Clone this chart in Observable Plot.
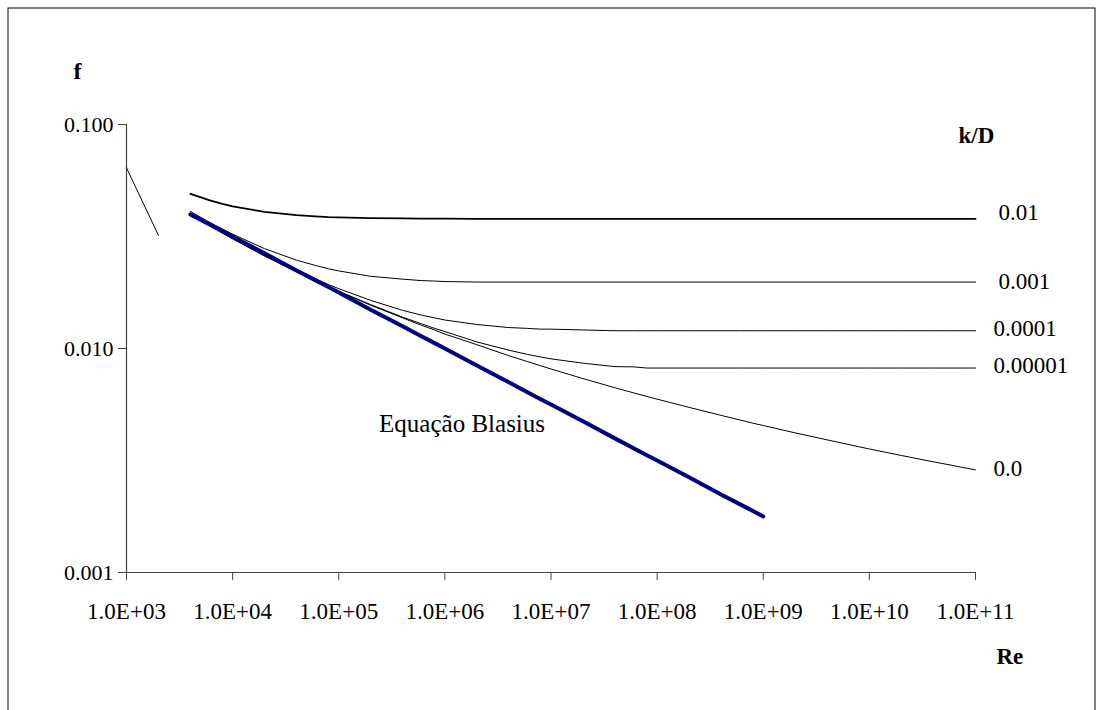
<!DOCTYPE html>
<html>
<head>
<meta charset="utf-8">
<script src="https://cdn.jsdelivr.net/npm/d3@7"></script>
<script src="https://cdn.jsdelivr.net/npm/@observablehq/plot@0.6"></script>
<style>
  html, body { margin: 0; padding: 0; background: #fff; }
  #chart svg { display: block; }
</style>
</head>
<body>
<div id="chart"></div>
<script>
// Reynolds numbers (shared x values of the turbulent curves)
const re = [4e3, 6e3, 8e3, 1e4, 2e4, 4e4, 6e4, 8e4, 1e5, 2e5, 4e5, 6e5, 8e5, 1e6, 2e6, 4e6, 6e6, 8e6,
  1e7, 2e7, 4e7, 6e7, 8e7, 1e8, 2e8, 4e8, 6e8, 8e8, 1e9, 2e9, 4e9, 6e9, 8e9, 1e10, 2e10, 4e10, 6e10, 8e10, 1e11];

// friction factor for each relative roughness k/D
const fK0_01 = [0.0490, 0.0460, 0.0442, 0.0431, 0.0407, 0.0394, 0.0389, 0.0386, 0.0385, 0.0382, 0.0381, 0.0380, 0.0380, 0.0380, 0.0379,
  0.0379, 0.0379, 0.0379, 0.0379, 0.0379, 0.0379, 0.0379, 0.0379, 0.0379, 0.0379, 0.0379, 0.0379, 0.0379, 0.0379, 0.0379,
  0.0379, 0.0379, 0.0379, 0.0379, 0.0379, 0.0379, 0.0379, 0.0379, 0.0379];
const fK0_001 = [0.0409, 0.0367, 0.0342, 0.0324, 0.0279, 0.0248, 0.0235, 0.0227, 0.0222, 0.0210, 0.0204, 0.0201, 0.0200, 0.0199, 0.0198,
  0.0198, 0.0198, 0.0198, 0.0198, 0.0198, 0.0198, 0.0198, 0.0198, 0.0198, 0.0198, 0.0198, 0.0198, 0.0198, 0.0198, 0.0198,
  0.0198, 0.0198, 0.0198, 0.0198, 0.0198, 0.0198, 0.0198, 0.0198, 0.0198];
const fK0_0001 = [0.0400, 0.0357, 0.0329, 0.0311, 0.0261, 0.0223, 0.0205, 0.0193, 0.0185, 0.0164, 0.0148, 0.0141, 0.0137, 0.0134, 0.0128,
  0.0124, 0.0123, 0.0122, 0.0122, 0.0121, 0.0120, 0.0120, 0.0120, 0.0120, 0.0120, 0.0120, 0.0120, 0.0120, 0.0120, 0.0120,
  0.0120, 0.0120, 0.0120, 0.0120, 0.0120, 0.0120, 0.0120, 0.0120, 0.0120];
const fK0_00001 = [0.0399, 0.0355, 0.0328, 0.0309, 0.0259, 0.0220, 0.0201, 0.0189, 0.0180, 0.0157, 0.0138, 0.0129, 0.0123, 0.0119, 0.0107,
  0.00983, 0.00941, 0.00916, 0.00899, 0.00860, 0.00830, 0.00828, 0.00818, 0.00818, 0.00818, 0.00818, 0.00818, 0.00818, 0.00818, 0.00818,
  0.00818, 0.00818, 0.00818, 0.00818, 0.00818, 0.00818, 0.00818, 0.00818, 0.00818];
const fSmooth = [0.0399, 0.0355, 0.0328, 0.0309, 0.0259, 0.0220, 0.0201, 0.0189, 0.0180, 0.0156, 0.0137, 0.0127, 0.0121, 0.0116, 0.0104,
  0.00929, 0.00874, 0.00837, 0.00810, 0.00734, 0.00668, 0.00634, 0.00611, 0.00594, 0.00546, 0.00503, 0.00480, 0.00464, 0.00453, 0.00420,
  0.00391, 0.00375, 0.00364, 0.00356, 0.00333, 0.00312, 0.00301, 0.00293, 0.00287];

// Blasius equation (Re 4e3 .. 1e9)
const reBlasius = [4e3, 6e3, 8e3, 1e4, 2e4, 4e4, 6e4, 8e4, 1e5, 2e5, 4e5, 6e5, 8e5, 1e6, 2e6, 4e6, 6e6, 8e6,
  1e7, 2e7, 4e7, 6e7, 8e7, 1e8, 2e8, 4e8, 6e8, 8e8, 1e9];
const fBlasius = [0.0397, 0.0359, 0.0334, 0.0316, 0.0266, 0.0223, 0.0202, 0.0188, 0.0178, 0.0149, 0.01257, 0.01135, 0.01057, 0.00999,
  0.00840, 0.00707, 0.00638, 0.00594, 0.00562, 0.00473, 0.00397, 0.00359, 0.00334, 0.00316, 0.00266, 0.00223, 0.00202, 0.00188, 0.00178];

// laminar segment
const reLaminar = [1000, 2000];
const fLaminar = [0.064, 0.032];

// labels
const seriesLabels = ["0.01", "0.001", "0.0001", "0.00001", "0.0"];
const xTicks = [1e3, 1e4, 1e5, 1e6, 1e7, 1e8, 1e9, 1e10, 1e11];
const yTicks = [0.001, 0.01, 0.1];
const blasiusLabel = "Equação Blasius";
const blasiusAnchor = {re: 2.4e5, f: 0.0046};

// styling (not data)
const seriesWidth = [1.8, 1, 1, 1, 1];
const labelDx = [23, 23, 18, 18, 18];
const labelDy = [-6, 0, -2.5, -2, -1.5];

const seriesValues = [fK0_01, fK0_001, fK0_0001, fK0_00001, fSmooth];
const series = seriesLabels.map((k, i) => re.map((r, j) => ({re: r, f: seriesValues[i][j], k})));
const blasius = reBlasius.map((r, j) => ({re: r, f: fBlasius[j]}));
const laminar = reLaminar.map((r, j) => ({re: r, f: fLaminar[j]}));

const fmtE = d => "1.0E+" + String(Math.round(Math.log10(d))).padStart(2, "0");
const axisColor = "#444";
const font = "'Liberation Serif', 'Times New Roman', Times, serif";

const chart = Plot.plot({
  width: 1096,
  height: 710,
  marginLeft: 126,
  marginRight: 121,
  marginTop: 124,
  marginBottom: 138,
  x: {type: "log", domain: [1e3, 1e11]},
  y: {type: "log", domain: [0.001, 0.1]},
  style: {fontFamily: font, fontSize: "23px", color: "#000", background: "#fff", overflow: "visible"},
  marks: [
    Plot.frame({stroke: "#000", strokeWidth: 1, insetLeft: -118.5, insetTop: -116.5, insetRight: -119.5, insetBottom: -150}),
    Plot.ruleX([1e3], {stroke: axisColor, strokeWidth: 1.2}),
    Plot.ruleY([0.001], {stroke: axisColor, strokeWidth: 1.2}),
    Plot.axisX({ticks: xTicks, tickFormat: fmtE, tickSize: 8, tickPadding: 22, label: null, stroke: axisColor, fontSize: 23, fill: "#000"}),
    Plot.axisY({ticks: yTicks, tickFormat: d3.format(".3f"), tickSize: 8, tickPadding: 5, label: null, stroke: axisColor, fontSize: 22, fill: "#000"}),
    Plot.line(laminar, {x: "re", y: "f", stroke: "#000", strokeWidth: 1}),
    ...series.map((s, i) => Plot.line(s, {x: "re", y: "f", stroke: "#000", strokeWidth: seriesWidth[i]})),
    Plot.line(blasius, {x: "re", y: "f", stroke: "#000080", strokeWidth: 4}),
    ...series.map((s, i) => Plot.text([s[s.length - 1]], {x: "re", y: "f", text: d => d.k, dx: labelDx[i], dy: labelDy[i], textAnchor: "start", fontSize: 23, fill: "#000"})),
    Plot.text([blasiusAnchor], {x: "re", y: "f", text: () => blasiusLabel, textAnchor: "start", fontSize: 25, fill: "#000"}),
    Plot.text(["f"], {frameAnchor: "top-left", dx: -53, dy: -63, text: d => d, textAnchor: "start", fontWeight: "bold", fontSize: 24, fill: "#000"}),
    Plot.text(["k/D"], {frameAnchor: "top-right", dx: -17, dy: 2, text: d => d, textAnchor: "start", fontWeight: "bold", fontSize: 23, fill: "#000"}),
    Plot.text(["Re"], {frameAnchor: "bottom-right", dx: 21, dy: 91, text: d => d, textAnchor: "start", fontWeight: "bold", fontSize: 23, fill: "#000"})
  ]
});
document.getElementById("chart").append(chart);
</script>
</body>
</html>
